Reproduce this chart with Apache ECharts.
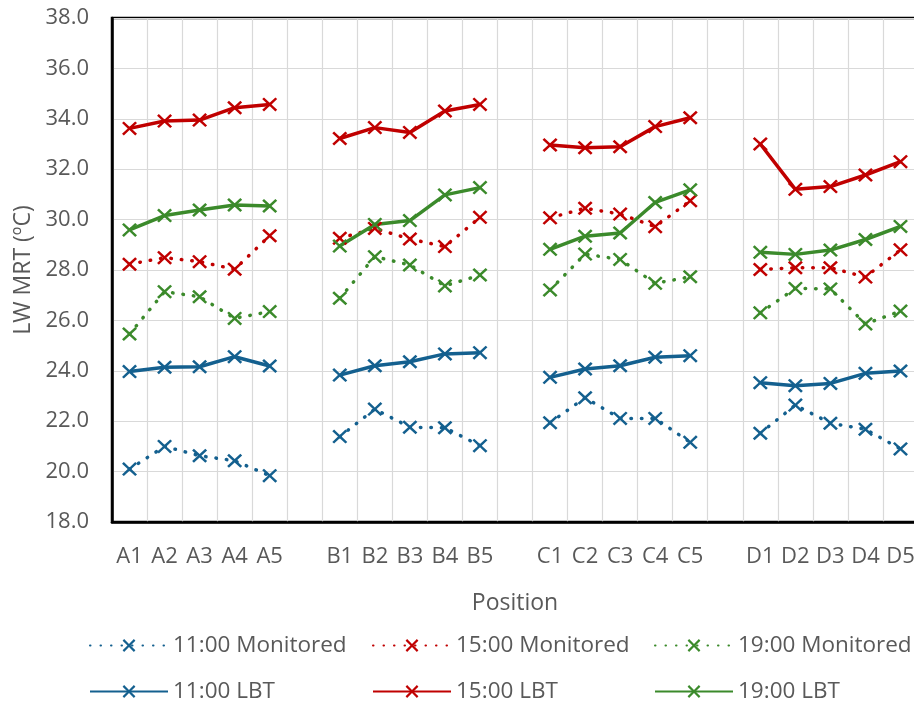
<!DOCTYPE html>
<html>
<head>
<meta charset="utf-8">
<script src="https://cdn.jsdelivr.net/npm/echarts@6/dist/echarts.min.js"></script>
<style>html,body{margin:0;padding:0;background:#fff;}#c{width:914px;height:704px;}</style>
</head>
<body>
<div id="c"></div>
<script>
var categories = ['A1','A2','A3','A4','A5','', 'B1','B2','B3','B4','B5','', 'C1','C2','C3','C4','C5','', 'D1','D2','D3','D4','D5'];
var yTicks = {min: 18, max: 38, interval: 2};
var mon1100 = [20.1,21.0,20.63,20.43,19.84,null, 21.39,22.48,21.76,21.74,21.03,null, 21.94,22.93,22.11,22.11,21.16,null, 21.52,22.64,21.92,21.68,20.9];
var mon1500 = [28.23,28.49,28.33,28.03,29.36,null, 29.26,29.65,29.23,28.93,30.09,null, 30.07,30.45,30.22,29.72,30.75,null, 28.02,28.09,28.09,27.72,28.8];
var mon1900 = [25.46,27.14,26.94,26.08,26.35,null, 26.88,28.53,28.2,27.37,27.8,null, 27.21,28.63,28.42,27.47,27.73,null, 26.3,27.27,27.25,25.86,26.37];
var lbt1100 = [23.97,24.14,24.16,24.56,24.19,null, 23.83,24.2,24.36,24.67,24.72,null, 23.74,24.07,24.2,24.54,24.6,null, 23.53,23.41,23.5,23.9,23.99];
var lbt1500 = [33.62,33.91,33.95,34.44,34.57,null, 33.22,33.65,33.46,34.31,34.57,null, 32.96,32.85,32.89,33.69,34.04,null, 33.0,31.2,31.31,31.77,32.3];
var lbt1900 = [29.59,30.16,30.38,30.58,30.54,null, 28.95,29.81,29.96,30.98,31.27,null, 28.82,29.34,29.47,30.68,31.18,null, 28.7,28.62,28.79,29.21,29.73];
var seriesNames = ['11:00 Monitored','15:00 Monitored','19:00 Monitored','11:00 LBT','15:00 LBT','19:00 LBT'];

var BLUE = '#14608F', RED = '#C00000', GREEN = '#3B8A2B';
var XPATH = 'path://M0,1.2 L1.2,0 L5,3.8 L8.8,0 L10,1.2 L6.2,5 L10,8.8 L8.8,10 L5,6.2 L1.2,10 L0,8.8 L3.8,5 Z';
var FONT = '"Open Sans", "Noto Sans", sans-serif';
var TXT = '#595959';

function mk(name, data, color, dotted) {
  return {
    name: name, type: 'line', data: data,
    symbol: XPATH, symbolSize: [15, 14], showSymbol: true,
    itemStyle: {color: color},
    lineStyle: dotted ? {color: color, width: 3.5, type: [0.5, 10], cap: 'round'} : {color: color, width: 3.5},
    emphasis: {disabled: true},
    animation: false,
    connectNulls: false
  };
}
var allData = [mon1100, mon1500, mon1900, lbt1100, lbt1500, lbt1900];
var colors = [BLUE, RED, GREEN, BLUE, RED, GREEN];
var series = seriesNames.map(function (n, i) { return mk(n, allData[i], colors[i], i < 3); });

var legendPos = [[84, 629], [367, 629], [649, 629], [84, 675], [367, 675], [649, 675]];
var legends = seriesNames.map(function (n, i) {
  return {
    data: [n], left: legendPos[i][0], top: legendPos[i][1],
    itemWidth: 78, itemHeight: 16, itemGap: 0,
    textStyle: {fontFamily: FONT, fontSize: 22.5, color: TXT},
    selectedMode: false
  };
});

var chart = echarts.init(document.getElementById('c'), null, {renderer: 'canvas'});
chart.setOption({
  animation: false,
  backgroundColor: '#fff',
  grid: {left: 112, top: 18, width: 806, height: 504, show: true, borderColor: '#000', borderWidth: 2.5, containLabel: false, outerBoundsMode: 'none'},
  legend: legends,
  xAxis: {
    type: 'category', data: categories, boundaryGap: true,
    name: 'Position', nameLocation: 'middle', nameGap: 70,
    nameTextStyle: {fontFamily: FONT, fontSize: 23, color: TXT},
    axisLine: {show: true, lineStyle: {color: '#000', width: 2.5}},
    axisTick: {show: false},
    axisLabel: {interval: 0, margin: 24, fontFamily: FONT, fontSize: 22, color: TXT},
    splitLine: {show: true, interval: 0, lineStyle: {color: '#D9D9D9', width: 1.2}}
  },
  yAxis: {
    type: 'value', min: yTicks.min, max: yTicks.max, interval: yTicks.interval,
    name: 'LW MRT (ºC)', nameLocation: 'middle', nameGap: 77,
    nameTextStyle: {fontFamily: FONT, fontSize: 23, color: TXT},
    axisLine: {show: true, lineStyle: {color: '#000', width: 2.5}},
    axisTick: {show: false},
    axisLabel: {margin: 23, fontFamily: FONT, fontSize: 22, color: TXT, formatter: function (v) { return v.toFixed(1); }},
    splitLine: {show: true, lineStyle: {color: '#D9D9D9', width: 1.2}}
  },
  series: series
});
</script>
</body>
</html>
